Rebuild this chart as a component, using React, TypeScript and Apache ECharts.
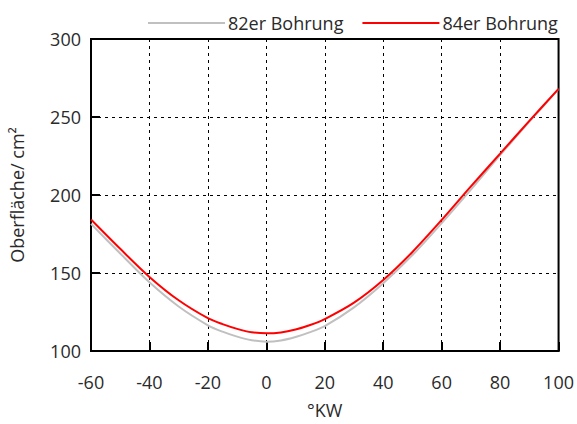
import React, { useEffect, useRef } from "react";
import * as echarts from "echarts";

const kw = [-60, -50, -40, -30, -20, -15, -10, -5, 0, 5, 10, 15, 20, 30, 40, 50, 60, 70, 80, 90, 100];
const bohrung82 = [181.5, 162.5, 144, 128.5, 116.5, 112.4, 109.2, 106.9, 106, 106.8, 109, 112.1, 116, 128, 143.5, 161.5, 182, 203.5, 225.5, 247, 268];
const bohrung84 = [184.3, 165.5, 147.5, 132.5, 121, 117.2, 114.2, 112, 111.3, 111.9, 113.8, 116.7, 120.5, 131, 145.5, 163.5, 184, 205.5, 226.5, 247.5, 268];
const seriesNames = ["82er Bohrung", "84er Bohrung"];

export default function App() {
  const ref = useRef<HTMLDivElement>(null);
  useEffect(() => {
    if (!ref.current) return;
    const chart = echarts.init(ref.current, null, { renderer: "svg" });
    const font = "Open Sans";
    const txt = { fontFamily: font, fontSize: 18, fontWeight: "normal", color: "#2a2a2a" };
    chart.setOption({
      animation: false,
      backgroundColor: "#ffffff",
      legend: {
        top: 9,
        left: 143,
        itemWidth: 77,
        itemHeight: 2,
        itemGap: 19,
        textStyle: { ...txt, padding: [0, 0, 0, -2] },
        data: seriesNames.map((n) => ({ name: n, icon: "rect" })),
      },
      grid: {
        left: 90,
        right: 16,
        top: 39,
        bottom: 72,
        show: true,
        borderColor: "#000",
        borderWidth: 2,
        backgroundColor: "transparent",
      },
      xAxis: {
        type: "value",
        min: -60,
        max: 100,
        interval: 20,
        name: "°KW",
        nameLocation: "middle",
        nameGap: 50,
        nameTextStyle: txt,
        axisLine: { show: true, onZero: false, lineStyle: { color: "#000", width: 2 } },
        axisTick: { show: true, inside: true, length: 9, lineStyle: { color: "#000", width: 2 } },
        axisLabel: { ...txt, margin: 22 },
        splitLine: { show: true, lineStyle: { color: "#000", type: [3, 4], width: 1 } },
      },
      yAxis: {
        type: "value",
        min: 100,
        max: 300,
        interval: 50,
        name: "Oberfläche/ cm²",
        nameLocation: "middle",
        nameGap: 65,
        nameTextStyle: txt,
        axisLine: { show: true, onZero: false, lineStyle: { color: "#000", width: 2 } },
        axisTick: { show: true, inside: true, length: 9, lineStyle: { color: "#000", width: 2 } },
        axisLabel: { ...txt, margin: 10 },
        splitLine: { show: true, lineStyle: { color: "#000", type: [3, 4], width: 1 } },
      },
      series: [
        {
          name: seriesNames[0],
          type: "line",
          smooth: 0.3,
          showSymbol: false,
          color: "#c0c0c0",
          lineStyle: { color: "#c0c0c0", width: 2 },
          data: kw.map((x, i) => [x, bohrung82[i]]),
        },
        {
          name: seriesNames[1],
          type: "line",
          smooth: 0.3,
          showSymbol: false,
          color: "#ff0000",
          lineStyle: { color: "#ff0000", width: 2 },
          data: kw.map((x, i) => [x, bohrung84[i]]),
        },
      ],
    });
    return () => chart.dispose();
  }, []);
  return <div ref={ref} style={{ position: "absolute", left: 0, top: 0, width: 577, height: 424 }} />;
}
